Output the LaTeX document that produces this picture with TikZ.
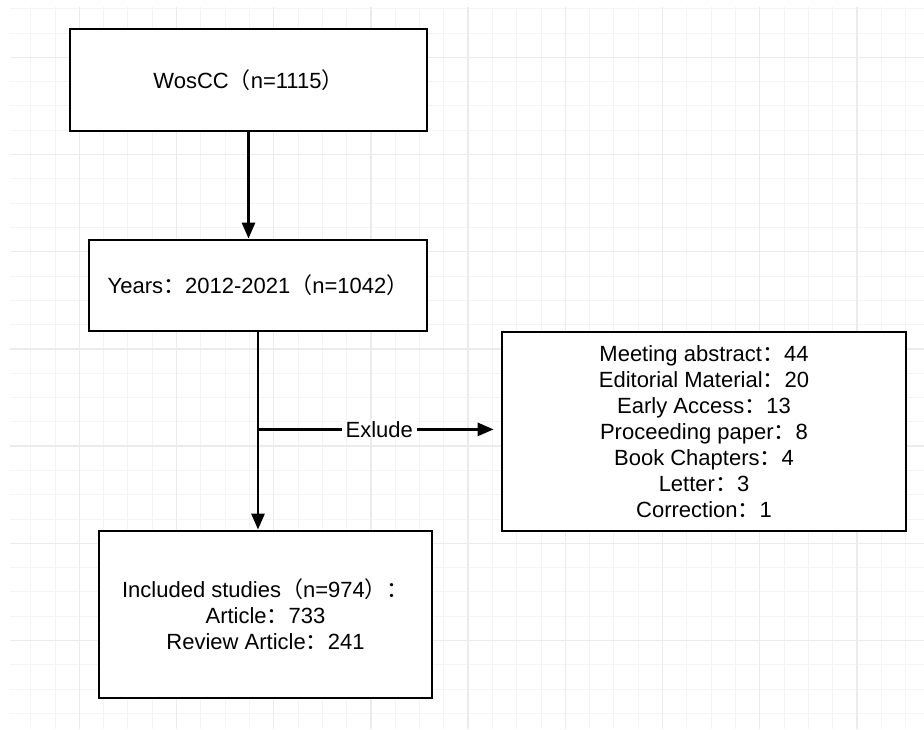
\documentclass[tikz,border=0pt]{standalone}
\usepackage{fontspec}
\setmainfont{Liberation Sans}
\newfontfamily\cjk{Noto Sans CJK SC}
\newcommand{\fwlp}{{\cjk （}}
\newcommand{\fwrp}{{\cjk ）}}
\newcommand{\fwcol}{{\cjk ：}}
\usetikzlibrary{arrows.meta}

\begin{document}
\begin{tikzpicture}[x=1pt, y=-1pt,
  box/.style={draw, line width=2.8pt, fill=white, align=center, inner sep=0pt,
    font=\fontsize{22}{26}\selectfont},
  link/.style={line width=2.8pt, -{Triangle[length=16pt, width=13pt]}},
  minor/.style={gray!9, line width=1pt},
  major/.style={gray!16, line width=1.5pt}]
  \useasboundingbox (0,0) rectangle (924,729);
  % background grid
  \foreach \i in {0,...,36}
    \draw[minor] ({30.7+24.3*\i},7) -- ({30.7+24.3*\i},729);
  \foreach \j in {0,...,29}
    \draw[minor] (10,{8.7+24.3*\j}) -- (924,{8.7+24.3*\j});
  \foreach \i in {0,...,8}
    \draw[major] ({79.3+97.2*\i},7) -- ({79.3+97.2*\i},729);
  \foreach \j in {0,...,6}
    \draw[major] (10,{57.3+97.2*\j}) -- (924,{57.3+97.2*\j});

  % boxes
  \node[box, minimum width=357pt, minimum height=102pt] (wos) at (248.5,80)
    {WosCC\fwlp n=1115\fwrp};
  \node[box, minimum width=338pt, minimum height=91pt] (years) at (258,285.5)
    {Years\fwcol 2012-2021\fwlp n=1042\fwrp};
  \node[box, minimum width=404pt, minimum height=199pt] (excl) at (704,431.5)
    {Meeting abstract\fwcol 44\\ Editorial Material\fwcol 20\\ Early Access\fwcol 13\\
     Proceeding paper\fwcol 8\\ Book Chapters\fwcol 4\\ Letter\fwcol 3\\ Correction\fwcol 1};
  \node[box, minimum width=333pt, minimum height=167pt] (incl) at (265.5,614.5)
    {Included studies\fwlp n=974\fwrp\fwcol\\ Article\fwcol 733\\ Review Article\fwcol 241};

  % connectors
  \draw[link] (wos.south) -- (wos.south |- years.north);
  \draw[link] (years.south) -- (years.south |- incl.north);
  \path (years.south) ++(0,97) coordinate (split);
  \draw[link, shorten >=7pt] (split) -- (split -| excl.west)
    node[midway, fill=white, inner sep=1pt, inner xsep=4pt,
      font=\fontsize{22}{26}\selectfont] (exl) {Exlude};
\end{tikzpicture}
\end{document}
